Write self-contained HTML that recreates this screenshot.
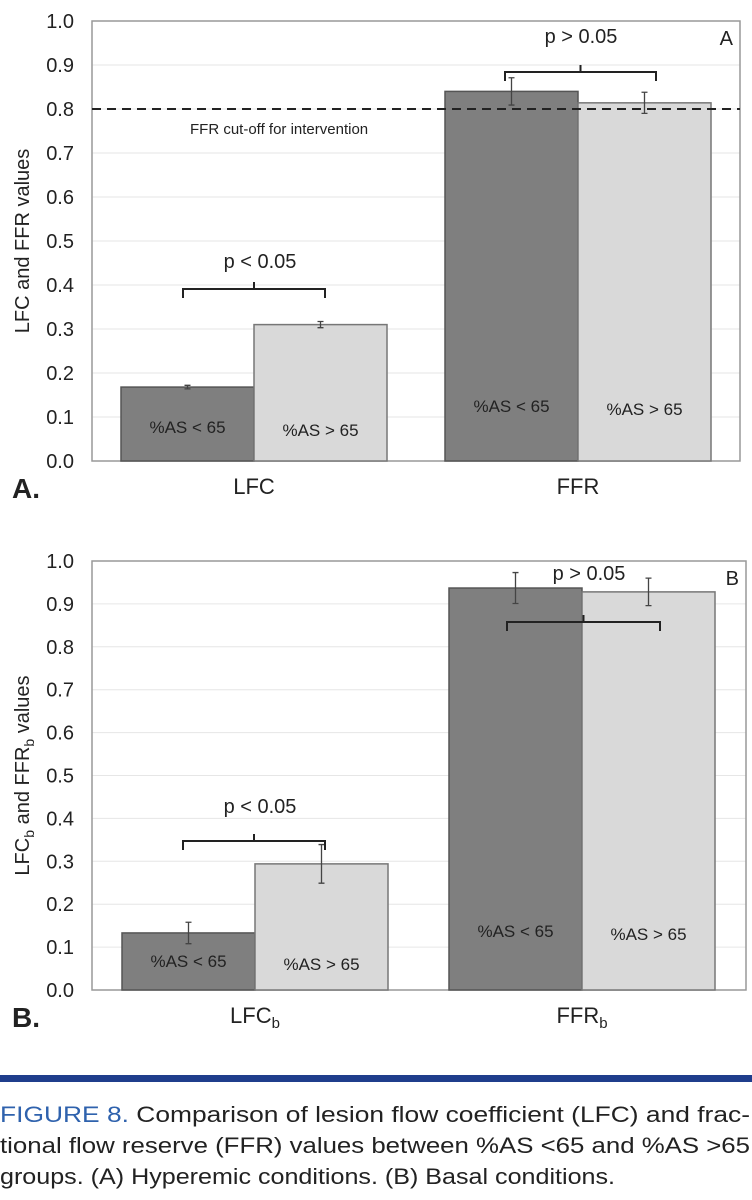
<!DOCTYPE html>
<html><head><meta charset="utf-8"><style>
body{margin:0;background:#fff;width:752px;height:1200px;overflow:hidden}
svg{display:block}
.t{font-family:"Liberation Sans",sans-serif;fill:#222}
</style></head><body>
<svg id="fig" width="752" height="1200">
<rect x="0" y="1075" width="752" height="7" fill="#1f3d8c"/>
<text class="t" x="0" y="1122" font-family="'Liberation Sans Narrow','Liberation Sans',sans-serif" font-size="22" textLength="750" lengthAdjust="spacingAndGlyphs"><tspan fill="#2f62ad">FIGURE 8.</tspan> Comparison of lesion flow coefficient (LFC) and frac-</text>
<text class="t" x="0" y="1153" font-family="'Liberation Sans Narrow','Liberation Sans',sans-serif" font-size="22" textLength="750" lengthAdjust="spacingAndGlyphs">tional flow reserve (FFR) values between %AS &lt;65 and %AS &gt;65</text>
<text class="t" x="0" y="1184" font-family="'Liberation Sans Narrow','Liberation Sans',sans-serif" font-size="22" textLength="615" lengthAdjust="spacingAndGlyphs">groups. (A) Hyperemic conditions. (B) Basal conditions.</text>
</svg>
<script>
const yTicks=[0,0.1,0.2,0.3,0.4,0.5,0.6,0.7,0.8,0.9,1.0];
const groupsA=["LFC","FFR"];
const lowA=[0.168,0.840];
const highA=[0.310,0.814];
const lowErrA=[0.004,0.031];
const highErrA=[0.007,0.024];
const groupsB=["LFCb","FFRb"];
const lowB=[0.133,0.937];
const highB=[0.294,0.928];
const lowErrB=[0.025,0.036];
const highErrB=[0.045,0.032];
const cutoff=[0.8];
const NS="http://www.w3.org/2000/svg";
const svg=document.getElementById('fig');
function el(tag,attrs,parent,txt){const e=document.createElementNS(NS,tag);for(const k in attrs)e.setAttribute(k,attrs[k]);if(txt!==undefined)e.textContent=txt;(parent||svg).appendChild(e);return e;}
function panel(cfg){
  const g=el('g',{});
  
  
  const y=v=>cfg.y0-(cfg.y0-cfg.y1)*v;
  const L=92,R=cfg.right;
  yTicks.forEach(v=>{
    if(v>0&&v<1){const gl=el('line',{x1:L,x2:R,y1:y(v),y2:y(v),stroke:'#e6e6e6','stroke-width':1},g);
      }
    const t=el('text',{class:'t',x:74,y:y(v)+7,'font-size':20,'text-anchor':'end'},g,v.toFixed(1));
    
  });
  const fr=el('rect',{x:L,y:cfg.y1,width:R-L,height:cfg.y0-cfg.y1,fill:'none',stroke:'#999','stroke-width':1.5},g);
  
  const bw=133;
  for(let i=0;i<2;i++){
    const xs=cfg.bx[i];
    [[cfg.low[i],cfg.lowErr[i],'#7f7f7f','#555',xs,'low'],[cfg.high[i],cfg.highErr[i],'#d9d9d9','#777',xs+bw,'high']].forEach(([v,e,f,s,x,n])=>{
      const r=el('rect',{x:x,y:y(v),width:bw,height:y(0)-y(v),fill:f,stroke:s,'stroke-width':1.5},g);
      
      const cx=x+bw/2;
      const eb=el('path',{d:`M${cx},${y(v+e)}V${y(v-e)}M${cx-3},${y(v+e)}H${cx+3}M${cx-3},${y(v-e)}H${cx+3}`,stroke:'#444','stroke-width':1.3,fill:'none'},g);
      
      const lb=el('text',{class:'t',x:cx,y:cfg.lblY[i]+(n==='high'?3:0),'font-size':17,'text-anchor':'middle'},g,n==='low'?'%AS < 65':'%AS > 65');
      
    });
    const cl=el('text',{class:'t',x:xs+bw,y:cfg.y0+33,'font-size':22,'text-anchor':'middle'},g);
    
    const nm=cfg.groups[i];
    if(nm.endsWith('b')){cl.textContent=nm.slice(0,-1);el('tspan',{'font-size':15,dy:5},cl,'b');}else cl.textContent=nm;
    const bk=cfg.brackets[i];
    const bp=el('path',{d:`M${bk[0]},${bk[2]+9}V${bk[2]}H${bk[1]}V${bk[2]+9}M${(bk[0]+bk[1])/2},${bk[2]}V${bk[2]-7}`,stroke:'#222','stroke-width':2,fill:'none'},g);
    
    const pt=el('text',{class:'t',x:bk[3],y:bk[4],'font-size':20,'text-anchor':'middle'},g,i===0?'p < 0.05':'p > 0.05');
    
  }
  const yt=el('text',{class:'t','font-size':20,'text-anchor':'middle',transform:`translate(29,${(cfg.y0+cfg.y1)/2}) rotate(-90)`},g);
  
  if(cfg.id==='a'){yt.textContent='LFC and FFR values';}
  else{yt.appendChild(document.createTextNode('LFC'));el('tspan',{'font-size':14,dy:5},yt,'b');
    el('tspan',{dy:-5},yt,' and FFR');el('tspan',{'font-size':14,dy:5},yt,'b');el('tspan',{dy:-5},yt,' values');}
  const pl=el('text',{class:'t',x:12,y:cfg.y0+37,'font-size':28,'font-weight':'bold'},g,cfg.id.toUpperCase()+'.');
  
  const cl2=el('text',{class:'t',x:R-7,y:cfg.y1+24,'font-size':20,'text-anchor':'end'},g,cfg.id.toUpperCase());
  
  return y;
}
const yA=panel({id:'a',y0:461,y1:21,right:740,groups:groupsA,low:lowA,high:highA,lowErr:lowErrA,highErr:highErrA,
  bx:[121,445],lblY:[433,412],brackets:[[183,325,289,260,268],[505,656,72,581,43]]});
const dl=el('line',{x1:92,x2:740,y1:yA(cutoff[0]),y2:yA(cutoff[0]),stroke:'#222','stroke-width':2,'stroke-dasharray':'9,6'});

const dt=el('text',{class:'t',x:190,y:yA(cutoff[0])+25,'font-size':15},svg,'FFR cut-off for intervention');

panel({id:'b',y0:990,y1:561,right:746,groups:groupsB,low:lowB,high:highB,lowErr:lowErrB,highErr:highErrB,
  bx:[122,449],lblY:[967,937],brackets:[[183,325,841,260,813],[507,660,622,589,580]]});
</script>
</body></html>
